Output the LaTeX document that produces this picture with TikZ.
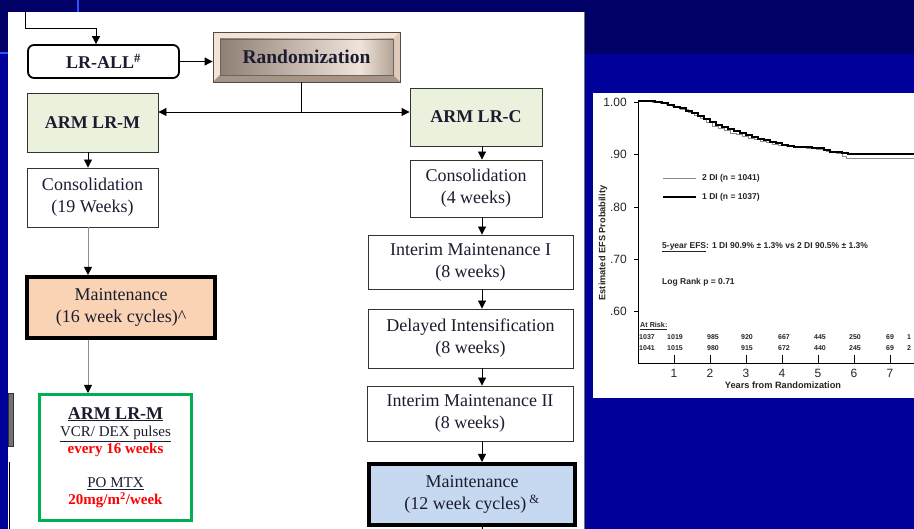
\documentclass[tikz,border=0pt]{standalone}
\usepackage{fontspec}
\setmainfont{Liberation Serif}
\newfontfamily\plotfont{Liberation Sans}
\usetikzlibrary{arrows.meta,calc}
\definecolor{slidetop}{HTML}{000066}
\definecolor{slideblue}{HTML}{00009A}
\definecolor{slideline}{HTML}{2B50FF}
\definecolor{armgreen}{HTML}{EAF1DD}
\definecolor{peach}{HTML}{FAD3B4}
\definecolor{paleblue}{HTML}{C6D9F1}
\definecolor{boxgreen}{HTML}{00B050}
\definecolor{bevellight}{HTML}{F7E3D3}
\definecolor{bevelside}{HTML}{E0CABA}
\definecolor{bevelbottom}{HTML}{A89484}
\definecolor{bevelface}{HTML}{8F7F75}
\definecolor{bevelglow}{HTML}{F0E4DA}
\definecolor{bevelmid}{HTML}{B4A496}
\definecolor{textdark}{HTML}{1C1C30}
\newcommand\stagefont{\rmfamily\mdseries\fontsize{18}{22}\selectfont}
\newcommand\stagebold{\rmfamily\fontsize{18}{22}\selectfont\bfseries}
\tikzset{
  stage/.style={draw=black!80, line width=0.9pt, fill=white, align=center, inner sep=0pt, font=\stagefont, text=textdark},
  armbox/.style={stage, fill=armgreen, font=\stagebold},
  maintbox/.style={stage, line width=4pt, draw=black},
  bevel/.style={draw=black!70, line width=0.8pt, fill=bevellight, inner sep=0pt, text=textdark,
    path picture={
      \path (path picture bounding box.north west) coordinate (bnw)
            (path picture bounding box.south east) coordinate (bse)
            (path picture bounding box.north east) coordinate (bne)
            (path picture bounding box.south west) coordinate (bsw);
      \fill[bevelside] (bne) -- (bse) -- ([xshift=-7pt,yshift=7pt]bse) -- ([xshift=-7pt,yshift=-7pt]bne) -- cycle;
      \fill[bevelbottom] (bsw) -- (bse) -- ([xshift=-7pt,yshift=7pt]bse) -- ([xshift=7pt,yshift=7pt]bsw) -- cycle;
      \shade[left color=bevelface, right color=bevelglow] ([xshift=7pt,yshift=-7pt]bnw) rectangle ([xshift=-40pt,yshift=7pt]bse);
      \shade[left color=bevelglow, right color=bevelmid] ([xshift=-40pt,yshift=-7pt]bne) rectangle ([xshift=-7pt,yshift=7pt]bse);
      \draw[black!60, line width=0.5pt] ([xshift=7pt,yshift=-7pt]bnw) rectangle ([xshift=-7pt,yshift=7pt]bse);
    }},
  arr/.style={-{Triangle[width=8pt,length=8pt,black]}, line width=0.9pt},
  greyarr/.style={arr, draw=black!45},
  plottext/.style={font=\plotfont\fontsize{#1}{#1}\selectfont\bfseries, inner sep=0pt, text=black!85},
  ticktext/.style={font=\plotfont\fontsize{12}{12}\selectfont, inner sep=0pt, text=black!85},
  curvegrey/.style={draw=black!45, line width=0.9pt},
  curveblack/.style={draw=black, line width=1.4pt},
}
\begin{document}
\begin{tikzpicture}[x=1pt,y=-1pt]
\useasboundingbox (0,0) rectangle (914,529);
\fill[slideblue] (0,0) rectangle (914,529);
\fill[slidetop] (0,0) rectangle (914,54);
\draw[slideline, line width=1.2pt] (78,0) -- (78,12);
\draw[slideline, line width=1.2pt] (0,53) -- (8,53);
\fill[white] (8,12) rectangle (584,529);
\draw[black!55, line width=0.8pt] (584,12) -- (584,529);
\fill[black!55, draw=black!80] (8,393) rectangle (13,446);
\draw[black, line width=0.8pt] (9,462) -- (9,529);
\fill[white] (593,93) rectangle (914,398);

\node[stage, rounded corners=6pt, line width=1.8pt, draw=black, minimum width=151pt, minimum height=33pt, font=\stagebold] (lrall) at (103.5,61.5) {LR-ALL\textsuperscript{\#}};
\node[bevel, minimum width=187pt, minimum height=50pt, font=\rmfamily\fontsize{19.5}{22}\selectfont\bfseries] (rand) at (306.5,57) {Randomization};
\node[armbox, minimum width=131pt, minimum height=59pt] (armm) at (92.5,122.5) {ARM LR-M};
\node[armbox, minimum width=132pt, minimum height=58pt] (armc) at (476,117) {ARM LR-C};
\node[stage, minimum width=131pt, minimum height=59pt] (consm) at (92.5,197.5) {Consolidation\\(19 Weeks)};
\node[maintbox, fill=peach, minimum width=188pt, minimum height=61pt] (maintm) at (121,307.5) {Maintenance\\(16 week cycles)\textasciicircum};
\node[stage, draw=boxgreen, line width=3pt, minimum width=152pt, minimum height=126pt, font=\rmfamily\fontsize{15}{17}\selectfont] (lrmbox) at (115.5,457.5) {{\fontsize{18}{18}\selectfont\bfseries\underline{ARM LR-M}}\\\underline{VCR/ DEX pulses}\\\textcolor{red}{\bfseries every 16 weeks}\\[17pt]\underline{PO MTX}\\\textcolor{red}{\bfseries 20mg/m\textsuperscript{2}/week}};
\node[stage, minimum width=132pt, minimum height=57pt] (consc) at (476,188.5) {Consolidation\\(4 weeks)};
\node[stage, minimum width=205pt, minimum height=54pt] (im1) at (470.5,262) {Interim Maintenance I\\(8 weeks)};
\node[stage, minimum width=205pt, minimum height=59pt] (di) at (470.5,338.5) {Delayed Intensification\\(8 weeks)};
\node[stage, minimum width=206pt, minimum height=55pt] (im2) at (470,413.5) {Interim Maintenance II\\(8 weeks)};
\node[maintbox, fill=paleblue, minimum width=206pt, minimum height=61pt] (maintc) at (472,494.5) {Maintenance\\(12 week cycles)\,\textsuperscript{\&}};

\coordinate (entry) at (25,12);
\coordinate (bend) at (96,28);
\coordinate (split) at (301,112);
\coordinate (ltrunk) at (88,0);
\coordinate (rtrunk) at (482,0);
\coordinate (exit) at (482,529);
\draw[arr] (entry) |- (bend) -- (bend |- lrall.north);
\draw[arr] (lrall.east) -- (rand.west |- lrall.east);
\draw[line width=0.9pt] (rand.south -| split) -- (split);
\draw[arr] (split) -- (armm.east |- split);
\draw[arr] (split) -- (armc.west |- split);
\draw[arr] (armm.south -| ltrunk) -- (consm.north -| ltrunk);
\draw[greyarr] (consm.south -| ltrunk) -- (maintm.north -| ltrunk);
\draw[greyarr] (maintm.south -| ltrunk) -- (lrmbox.north -| ltrunk);
\draw[arr] (armc.south -| rtrunk) -- (consc.north -| rtrunk);
\draw[arr] (consc.south -| rtrunk) -- (im1.north -| rtrunk);
\draw[arr] (im1.south -| rtrunk) -- (di.north -| rtrunk);
\draw[arr] (di.south -| rtrunk) -- (im2.north -| rtrunk);
\draw[arr] (im2.south -| rtrunk) -- (maintc.north -| rtrunk);
\draw[line width=0.9pt] (maintc.south -| rtrunk) -- (exit);

\draw[line width=1pt] (638,100) -- (638,364) -- (914,364);
\foreach \yy/\lab [count=\k] in {102/1.00,154/.90,207/.80,259/.70,311/.60} {
  \draw[line width=0.8pt] (634,\yy) -- (638,\yy);
  \node[ticktext, anchor=east] (ylab\k) at (627,\yy) {\lab};
}
\foreach \t in {1,...,7} {
  \draw[line width=0.8pt] (638+36*\t,355) -- (638+36*\t,364);
  \node[ticktext] (xlab\t) at (638+36*\t,373) {\t};
}
\node[plottext=9.2] (xlabel) at (783,385) {Years from Randomization};
\node[plottext=9.2, rotate=90] (ylabel) at (603,243) {Estimated EFS Probability};
\draw[curvegrey] (638,101) -| (652,102) -| (660,103) -| (666,104) -| (672,106) -| (680,109) -| (688,112) -| (694,115) -| (700,118) -| (706,122) -| (712,126) -| (718,128) -| (724,130) -| (730,133) -| (736,134) -| (742,136) -| (748,138) -| (754,139) -| (760,141) -| (766,142) -| (772,144) -| (778,145) -| (786,146) -| (796,147) -| (806,148) -| (816,149) -| (826,151) -| (836,153) -| (842,156) -| (846,158) -- (914,158);
\draw[curveblack] (638,101) -| (655,102) -| (662,103) -| (668,105) -| (674,107) -| (680,108) -| (686,111) -| (692,113) -| (698,116) -| (704,119) -| (710,122) -| (716,125) -| (722,127) -| (728,129) -| (734,131) -| (740,133) -| (746,135) -| (752,137) -| (758,139) -| (764,140) -| (770,142) -| (776,143) -| (782,145) -| (788,146) -| (794,147) -| (812,148) -| (824,150) -| (830,152) -| (842,153) -| (848,154) -- (914,154);
\draw[curvegrey] (663,178) -- (696,178);
\node[plottext=8.5, anchor=west] (leg2) at (702,178) {2 DI (n = 1041)};
\draw[curveblack] (663,197) -- (696,197);
\node[plottext=8.5, anchor=west] (leg1) at (702,197) {1 DI (n = 1037)};
\node[plottext=8.5, anchor=west] (efs) at (662,247) {\underline{5-year EFS}: 1 DI 90.9\% ± 1.3\% vs 2 DI 90.5\% ± 1.3\%};
\node[plottext=8.5, anchor=west] (logrank) at (662,282) {Log Rank p = 0.71};
\node[plottext=7.2, anchor=west] (atrisk) at (640,326) {\underline{At Risk:}};
\foreach \xx/\a/\b [count=\k] in {647/1037/1041,675/1019/1015,713/985/980,747/920/915,784/667/672,820/445/440,855/250/245,890/69/69,909/1/2} {
  \node[plottext=7] (riska\k) at (\xx,337) {\a};
  \node[plottext=7] (riskb\k) at (\xx,348) {\b};
}
\end{tikzpicture}
\end{document}
